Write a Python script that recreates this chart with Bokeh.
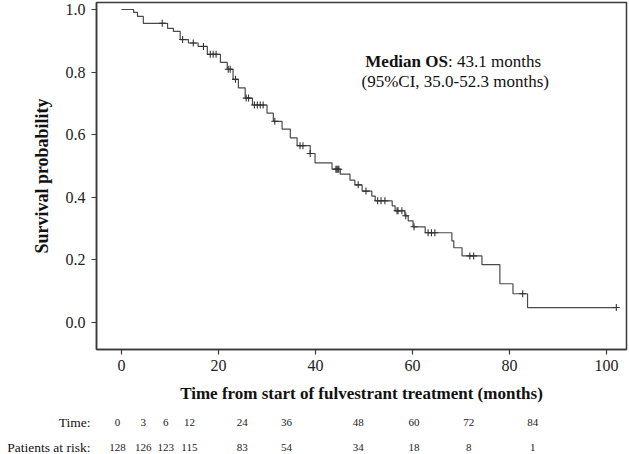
from bokeh.plotting import figure
from bokeh.layouts import column
from bokeh.models import Label, Range1d, FixedTicker, NumeralTickFormatter, LinearAxis
from bokeh.core.properties import value
from bokeh.embed import file_html
from bokeh.resources import INLINE

# Kaplan-Meier steps (time in months, survival after the drop)
step_t = [0, 2.5, 3.3, 4.5, 9.5, 10.7, 12.1, 13.8, 15.8, 17.7, 20.4, 21.8, 23.0, 24.1,
          25.5, 27.0, 30.0, 31.3, 33.1, 34.8, 36.2, 38.9, 39.9, 43.4, 45.1, 47.1, 48.1,
          49.6, 51.6, 52.3, 55.8, 56.4, 58.4, 59.1, 60.1, 62.6, 68.1, 68.5, 70.2, 74.3,
          78.0, 80.7, 83.7]
step_s = [1.0, 0.991, 0.978, 0.956, 0.94, 0.93, 0.904, 0.893, 0.882, 0.857, 0.831, 0.809,
          0.777, 0.75, 0.717, 0.695, 0.669, 0.643, 0.618, 0.59, 0.565, 0.54, 0.51, 0.49,
          0.474, 0.455, 0.44, 0.42, 0.404, 0.389, 0.373, 0.357, 0.341, 0.325, 0.306, 0.287,
          0.261, 0.239, 0.213, 0.185, 0.124, 0.092, 0.048]

# censored observations (months)
censor_t = [8.4, 12.6, 14.8, 16.9, 18.3, 18.9, 19.5, 22.0, 22.4, 23.5, 25.7, 26.2, 27.4,
            28.0, 28.6, 29.2, 31.6, 36.8, 37.4, 38.9, 44.2, 44.4, 44.6, 44.8, 48.8, 50.4,
            52.8, 53.5, 54.3, 56.8, 57.0, 57.8, 58.6, 60.3, 63.2, 63.9, 64.6, 71.8, 72.6,
            82.7, 102.0]

# risk table
risk_row_labels = ["Time:", "Patients at risk:"]
risk_times = [0, 3, 6, 12, 24, 36, 48, 60, 72, 84]
risk_n = [128, 126, 123, 115, 83, 54, 34, 18, 8, 1]
# column placement of the risk table (layout, months on the x scale)
risk_col_x = [-0.8, 4.5, 9.1, 14.0, 24.9, 34.0, 48.8, 60.3, 71.6, 84.8]

x_ticks = [0, 20, 40, 60, 80, 100]
y_ticks = [0.0, 0.2, 0.4, 0.6, 0.8, 1.0]


def surv_at(t):
    s = step_s[0]
    for tt, ss in zip(step_t, step_s):
        if tt <= t:
            s = ss
    return s


censor_s = [surv_at(t) for t in censor_t]
line_t = step_t + [censor_t[-1]]
line_s = step_s + [step_s[-1]]

FONT = "Liberation Serif"
DARK = "#3a3a3a"

W = 629
X0, X1 = -5.15, 104.1
BL, BR = 96, 3

p = figure(width=W, height=407, output_backend="svg", toolbar_location=None,
           x_range=Range1d(X0, X1), y_range=Range1d(-0.086, 1.0224),
           min_border_left=BL, min_border_right=BR, min_border_top=2, min_border_bottom=58)
p.xgrid.visible = False
p.ygrid.visible = False
p.outline_line_color = DARK
p.outline_line_width = 1.5
p.background_fill_color = "white"
p.border_fill_color = "white"

p.step(line_t, line_s, mode="after", line_color="#4a4a4a", line_width=1.2)
p.scatter(censor_t, censor_s, marker="cross", size=7, line_color="#333333", line_width=1.1)

for ax in (p.xaxis[0], p.yaxis[0]):
    ax.axis_line_color = DARK
    ax.axis_line_width = 1.5
    ax.major_tick_line_color = DARK
    ax.major_tick_line_width = 1.2
    ax.major_tick_out = 5
    ax.major_tick_in = 0
    ax.minor_tick_line_color = None
    ax.major_label_text_font = FONT
    ax.major_label_text_font_size = "16px"
    ax.major_label_text_color = "#222222"
    ax.axis_label_text_font = FONT
    ax.axis_label_text_font_style = "bold"
    ax.axis_label_text_font_size = "17px"
    ax.axis_label_text_color = "#111111"

p.yaxis.axis_label_text_font_size = "18px"
p.xaxis.ticker = FixedTicker(ticks=x_ticks)
p.yaxis.ticker = FixedTicker(ticks=y_ticks)
p.yaxis.formatter = NumeralTickFormatter(format="0.0")
p.xaxis.axis_label = "Time from start of fulvestrant treatment (months)"
p.yaxis.axis_label = "Survival probability"
p.xaxis.major_label_standoff = 5
p.yaxis.major_label_standoff = 6
p.xaxis.axis_label_standoff = 10
p.yaxis.axis_label_standoff = 11

# median annotation
p.add_layout(Label(x=67.3, y=0.834, text="Median OS", text_font=FONT, text_font_style="bold",
                   text_font_size="17px", text_align="right", text_baseline="middle",
                   text_color="#111111"))
p.add_layout(Label(x=67.3, y=0.834, text=": 43.1 months", text_font=FONT,
                   text_font_size="17px", text_align="left", text_baseline="middle",
                   text_color="#111111"))
p.add_layout(Label(x=68.8, y=0.77, text="(95%CI, 35.0-52.3 months)", text_font=FONT,
                   text_font_size="17px", text_align="center", text_baseline="middle",
                   text_color="#111111"))

# risk table: a second strip sharing the month scale of the main frame
TH = 47
ROW_TIME = 32
ROW_RISK = 7
t = figure(width=W, height=TH, output_backend="svg", toolbar_location=None,
           x_range=Range1d(X0, X1), y_range=Range1d(0, TH),
           min_border_left=BL, min_border_right=BR, min_border_top=0, min_border_bottom=0,
           x_axis_location=None, y_axis_location=None)
t.xgrid.visible = False
t.ygrid.visible = False
t.outline_line_color = None
t.background_fill_color = "white"
t.border_fill_color = "white"

row_axis = LinearAxis(ticker=FixedTicker(ticks=[ROW_TIME, ROW_RISK]),
                      major_label_overrides={ROW_TIME: risk_row_labels[0],
                                             ROW_RISK: risk_row_labels[1]},
                      axis_line_color=None, major_tick_line_color=None,
                      major_tick_in=0, major_tick_out=0,
                      minor_tick_line_color=None, minor_tick_in=0, minor_tick_out=0,
                      major_label_standoff=6,
                      major_label_text_font=FONT, major_label_text_font_size="13.5px",
                      major_label_text_color="#111111")
t.add_layout(row_axis, "left")

t.text(x=risk_col_x, y=[ROW_TIME] * len(risk_times), text=[str(v) for v in risk_times],
       text_font=value(FONT), text_font_size="11px", text_align="center",
       text_baseline="middle", text_color="#222222")
t.text(x=risk_col_x, y=[ROW_RISK] * len(risk_n), text=[str(v) for v in risk_n],
       text_font=value(FONT), text_font_size="11px", text_align="center",
       text_baseline="middle", text_color="#222222")

layout = column(p, t, spacing=0)
open("out.html", "w").write(file_html(layout, INLINE))
